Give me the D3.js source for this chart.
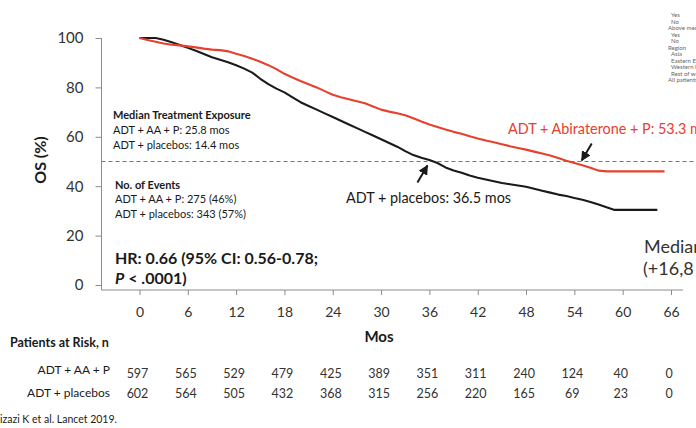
<!DOCTYPE html>
<html>
<head>
<meta charset="utf-8">
<script src="https://cdn.jsdelivr.net/npm/d3@7"></script>
<style>
  html, body { margin: 0; padding: 0; background: #fff; }
  svg { display: block; font-family: Lato, "Open Sans", sans-serif; }
</style>
</head>
<body>
<svg id="chart" width="696" height="428"></svg>
<script>
// Kaplan-Meier overall survival, ADT + abiraterone + prednisone vs ADT + placebos
const abiMonths = [0,1,2,3,4,5,6,7,8,9,10,11,12,13,14,15,16,17,18,19,20,21,22,23,24,25,26,27,28,29,30,31,32,33,34,35,36,37,38,39,40,41,42,43,44,45,46,47,48,49,50,51,52,53,54,55,56,57,58,65.2];
const abiOS     = [100,99.2,98.5,97.8,97.3,97,96.6,96.2,95.7,95.3,95.1,94.6,93.6,92.7,91.6,90.4,89,87.4,85.5,84,82.6,81.3,80,78.5,77,76,75.2,74.4,73.6,72.3,71,70.2,69.5,68.7,67.5,66.2,65,64,63,62,61.2,60.2,59.3,58.5,57.8,57,56.2,55.5,54.8,54,53.2,52.4,51.4,50.3,49.4,48.5,47.5,46.3,46,46];

const pboMonths = [0,1,2,3,4,5,6,7,8,9,10,11,12,13,14,15,16,17,18,19,20,21,22,23,24,25,26,27,28,29,30,31,32,33,34,35,36,37,38,39,40,41,42,43,44,45,46,47,48,49,50,51,52,53,54,55,56,57,58,59,64.3];
const pboOS     = [100,100,100,99.3,98.3,97.2,96,94.8,93.5,92.2,91.2,90.2,89,87.6,86,83.5,81.3,79.5,78,76,74,72.5,71,69.5,68,66.5,65,63.5,62,60.5,59,57.5,56,54.2,52.6,51.5,50.6,49.4,47.6,46.4,45.4,44.3,43.4,42.7,42,41.3,40.8,40.3,39.8,39,38.2,37.4,36.6,36,35.2,34.5,33.6,32.6,31.5,30.4,30.4];

const medianAbi = 53.3;
const medianPbo = 36.5;

const xTicks = [0,6,12,18,24,30,36,42,48,54,60,66];
const yTicks = [0,20,40,60,80,100];

const riskAbi = [597,565,529,479,425,389,351,311,240,124,40,0];
const riskPbo = [602,564,505,432,368,315,256,220,165,69,23,0];

const subgroupLabels = [
  ["Yes", 1], ["No", 1], ["Above median", 0], ["Yes", 1], ["No", 1],
  ["Region", 0], ["Asia", 1], ["Eastern Europe", 1], ["Western Europe", 1],
  ["Rest of world", 1], ["All patients", 0]
];

const RED = "#e5412e";
const INK = "#1a1a1a";
const AXIS = "#8c8c8c";

const svg = d3.select("#chart");

const x = d3.scaleLinear().domain([0, 66]).range([139.5, 671]);
const y = d3.scaleLinear().domain([0, 100]).range([285, 38]);

const axisX0 = 101.5, axisY0 = 290;

// axes
const gy = svg.append("g").attr("transform", `translate(${axisX0},0)`)
  .call(d3.axisLeft(y).tickValues(yTicks).tickSize(6).tickPadding(12));
gy.select(".domain").remove();
gy.selectAll(".tick line").attr("stroke", AXIS);
gy.selectAll(".tick text").attr("fill", "#333").style("font-size", "15px").style("font-family", "Lato, sans-serif");

const gx = svg.append("g").attr("transform", `translate(0,${axisY0})`)
  .call(d3.axisBottom(x).tickValues(xTicks).tickSize(5).tickPadding(12));
gx.select(".domain").remove();
gx.selectAll(".tick line").attr("stroke", AXIS);
gx.selectAll(".tick text").attr("fill", "#333").style("font-size", "14px").style("font-family", "Lato, sans-serif");

svg.append("line").attr("x1", axisX0).attr("x2", axisX0).attr("y1", y(100)).attr("y2", axisY0)
  .attr("stroke", AXIS).attr("stroke-width", 1);
svg.append("line").attr("x1", axisX0).attr("x2", 683).attr("y1", axisY0).attr("y2", axisY0)
  .attr("stroke", AXIS).attr("stroke-width", 1);

// 50% reference line
svg.append("line").attr("x1", axisX0).attr("x2", 696).attr("y1", y(50)).attr("y2", y(50))
  .attr("stroke", "#777").attr("stroke-width", 1).attr("stroke-dasharray", "4,3");

// survival curves
const line = d3.line().x(d => x(d[0])).y(d => y(d[1])).curve(d3.curveLinear);
svg.append("path").datum(d3.zip(pboMonths, pboOS)).attr("d", line)
  .attr("fill", "none").attr("stroke", INK).attr("stroke-width", 2.1).attr("stroke-linejoin", "round");
svg.append("path").datum(d3.zip(abiMonths, abiOS)).attr("d", line)
  .attr("fill", "none").attr("stroke", RED).attr("stroke-width", 2.1).attr("stroke-linejoin", "round");

// axis titles
svg.append("text").attr("transform", "translate(46,160) rotate(-90)")
  .attr("text-anchor", "middle").attr("font-weight", 700).attr("font-size", 16).attr("fill", INK)
  .text("OS (%)");
svg.append("text").attr("x", 379).attr("y", 342).attr("text-anchor", "middle")
  .attr("font-weight", 700).attr("font-size", 15).attr("fill", INK).text("Mos");

// median annotations with arrows
svg.append("defs").append("marker").attr("id", "head").attr("viewBox", "0 0 10 10")
  .attr("refX", 9).attr("refY", 5).attr("markerWidth", 5).attr("markerHeight", 5)
  .attr("orient", "auto").append("path").attr("d", "M0,0 L10,5 L0,10 z").attr("fill", INK);

const tipPbo = [x(medianPbo) - 6, y(50) + 4];
svg.append("line").attr("x1", tipPbo[0] - 10).attr("y1", tipPbo[1] + 17)
  .attr("x2", tipPbo[0]).attr("y2", tipPbo[1])
  .attr("stroke", INK).attr("stroke-width", 2).attr("marker-end", "url(#head)");
const tipAbi = [x(medianAbi) + 13, y(50) - 1];
svg.append("line").attr("x1", tipAbi[0] + 10).attr("y1", tipAbi[1] - 17)
  .attr("x2", tipAbi[0]).attr("y2", tipAbi[1])
  .attr("stroke", INK).attr("stroke-width", 2).attr("marker-end", "url(#head)");

svg.append("text").attr("x", 508).attr("y", 134).attr("font-size", 14.4).attr("fill", RED)
  .text(`ADT + Abiraterone + P: ${medianAbi} mos`);
svg.append("text").attr("x", 346).attr("y", 203).attr("font-size", 14.4).attr("fill", INK)
  .text(`ADT + placebos: ${medianPbo} mos`);

// inset text blocks
const small = (tx, ty, str, bold) => svg.append("text").attr("x", tx).attr("y", ty)
  .attr("font-size", 11).attr("font-weight", bold ? 700 : 400).attr("fill", INK).text(str);
small(113, 119, "Median Treatment Exposure", true);
small(113, 134, "ADT + AA + P: 25.8 mos");
small(113, 149, "ADT + placebos: 14.4 mos");
small(115, 189, "No. of Events", true);
small(115, 203, "ADT + AA + P: 275 (46%)");
small(115, 218, "ADT + placebos: 343 (57%)");

svg.append("text").attr("x", 115).attr("y", 264).attr("font-size", 16).attr("font-weight", 700).attr("fill", INK)
  .text("HR: 0.66 (95% CI: 0.56-0.78;");
const pLine = svg.append("text").attr("x", 115).attr("y", 284).attr("font-size", 16).attr("font-weight", 700).attr("fill", INK);
pLine.append("tspan").attr("font-style", "italic").text("P");
pLine.append("tspan").text(" < .0001)");

svg.append("text").attr("x", 644).attr("y", 253).attr("font-size", 18).attr("fill", "#333").text("Median");
svg.append("text").attr("x", 643).attr("y", 275).attr("font-size", 18).attr("fill", "#333").text("(+16,8");

// subgroup list in the corner
svg.append("g").selectAll("text").data(subgroupLabels).join("text")
  .attr("x", d => d[1] ? 671 : 668).attr("y", (d, i) => 17 + i * 6.5)
  .attr("font-size", 6).attr("fill", "#666").text(d => d[0]);

// patients at risk table
svg.append("text").attr("x", 10).attr("y", 347).attr("font-size", 12.5).attr("font-weight", 700).attr("fill", INK)
  .text("Patients at Risk, n");
svg.append("text").attr("x", 110).attr("y", 374).attr("text-anchor", "end").attr("font-size", 12).attr("fill", INK).text("ADT + AA + P");
svg.append("text").attr("x", 110).attr("y", 397).attr("text-anchor", "end").attr("font-size", 12).attr("fill", INK).text("ADT + placebos");

svg.append("g").selectAll("text").data(riskAbi).join("text")
  .attr("x", (d, i) => x(xTicks[i]) - 2).attr("y", 378).attr("text-anchor", "middle")
  .attr("font-size", 12.5).attr("fill", "#333").text(d => d);
svg.append("g").selectAll("text").data(riskPbo).join("text")
  .attr("x", (d, i) => x(xTicks[i]) - 2).attr("y", 398).attr("text-anchor", "middle")
  .attr("font-size", 12.5).attr("fill", "#333").text(d => d);

svg.append("text").attr("x", -6).attr("y", 423).attr("font-size", 10.5).attr("fill", INK)
  .text("Fizazi K et al. Lancet 2019.");
</script>
</body>
</html>
